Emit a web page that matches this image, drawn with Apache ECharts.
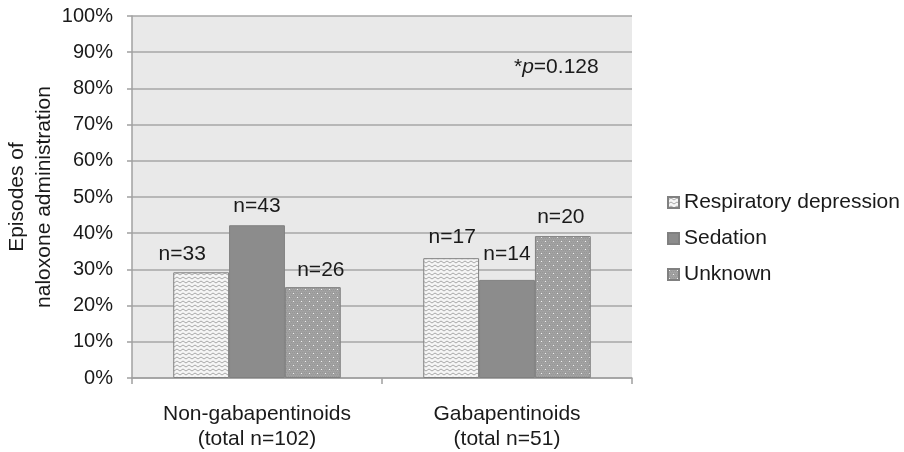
<!DOCTYPE html>
<html>
<head>
<meta charset="utf-8">
<script src="https://cdn.jsdelivr.net/npm/echarts@6/dist/echarts.min.js"></script>
<style>html,body{margin:0;padding:0;background:#fff;}#c{width:904px;height:452px;}</style>
</head>
<body>
<div id="c"></div>
<script>
const categories = ['Non-gabapentinoids\n(total n=102)', 'Gabapentinoids\n(total n=51)'];
const seriesNames = ['Respiratory depression', 'Sedation', 'Unknown'];
const respiratory = [29.2, 33.1];
const sedation = [42.2, 27.1];
const unknown = [25.1, 39.2];
const respLabels = ['n=33', 'n=17'];
const sedLabels = ['n=43', 'n=14'];
const unkLabels = ['n=26', 'n=20'];
const yTicks = [0, 10, 20, 30, 40, 50, 60, 70, 80, 90, 100];

function makePattern(w, h, draw) {
  const cv = document.createElement('canvas');
  cv.width = w; cv.height = h;
  const ctx = cv.getContext('2d');
  draw(ctx);
  return cv;
}
const zigzag = makePattern(6, 4, ctx => {
  ctx.fillStyle = '#f6f6f6'; ctx.fillRect(0, 0, 6, 4);
  ctx.strokeStyle = '#a8a8a8'; ctx.lineWidth = 1;
  ctx.beginPath(); ctx.moveTo(0, 3); ctx.lineTo(3, 1); ctx.lineTo(6, 3); ctx.stroke();
});
const dotted = makePattern(8, 8, ctx => {
  ctx.fillStyle = '#a2a2a2'; ctx.fillRect(0, 0, 8, 8);
  ctx.fillStyle = '#979797';
  for (let i = 0; i < 8; i += 2) for (let j = 0; j < 8; j += 2) ctx.fillRect(i + (j % 4 ? 1 : 0), j, 1, 1);
  ctx.fillStyle = '#f0f0f0';
  ctx.fillRect(1, 1, 1, 1); ctx.fillRect(5, 5, 1, 1);
});

const chart = echarts.init(document.getElementById('c'));
const font = 'Liberation Sans, Arial, sans-serif';
const txt = '#1a1a1a';
const fs = 21;
const border = { borderColor: '#808080', borderWidth: 1 };

function mkData(vals, labels, offsets) {
  return vals.map((v, i) => ({ value: v, label: { formatter: labels[i], offset: offsets[i] } }));
}
const lbl = { show: true, position: 'top', distance: 8, fontSize: fs, color: txt, fontFamily: font };

chart.setOption({
  animation: false,
  textStyle: { fontFamily: font },
  grid: { left: 132, right: 272, top: 16, bottom: 74, show: true, backgroundColor: '#e9e9e9', borderWidth: 0,
    outerBoundsMode: 'none', containLabel: false },
  legend: {
    orient: 'vertical', left: 662, top: 187, itemWidth: 11, itemHeight: 11, itemGap: 15,
    data: seriesNames,
    textStyle: { fontSize: fs, color: txt, fontFamily: font },
    icon: 'rect'
  },
  xAxis: {
    type: 'category', data: categories,
    axisLine: { lineStyle: { color: '#a0a0a0', width: 1.5 } },
    axisTick: { show: true, length: 6, lineStyle: { color: '#a0a0a0', width: 1.5 } },
    axisLabel: { fontSize: fs, color: txt, lineHeight: 25, margin: 24, fontFamily: font }
  },
  yAxis: {
    type: 'value', min: 0, max: 100, interval: 10,
    name: 'Episodes of\nnaloxone administration', nameLocation: 'middle', nameRotate: 90, nameGap: 74,
    nameMoveOverlap: false,
    nameTextStyle: { fontSize: fs, color: txt, lineHeight: 27, fontFamily: font },
    axisLine: { show: true, lineStyle: { color: '#a0a0a0', width: 1.5 } },
    axisTick: { show: true, length: 5, lineStyle: { color: '#a0a0a0', width: 1.5 } },
    splitLine: { lineStyle: { color: '#a6a6a6', width: 1.5 } },
    axisLabel: { fontSize: 20, color: txt, margin: 19, fontFamily: font,
      formatter: v => (yTicks.includes(v) ? v + '%' : '') }
  },
  series: [
    { name: seriesNames[0], type: 'bar', barGap: '0%', barCategoryGap: '33%',
      itemStyle: Object.assign({ color: { image: zigzag, repeat: 'repeat' } }, border),
      label: lbl,
      data: mkData(respiratory, respLabels, [[-19, 0], [1, -2]]) },
    { name: seriesNames[1], type: 'bar',
      itemStyle: Object.assign({ color: '#8c8c8c' }, border),
      label: lbl,
      data: mkData(sedation, sedLabels, [[0, -1], [0, -7]]) },
    { name: seriesNames[2], type: 'bar',
      itemStyle: Object.assign({ color: { image: dotted, repeat: 'repeat' } }, border),
      label: lbl,
      data: mkData(unknown, unkLabels, [[8, 2], [-2, 0]]) }
  ],
  graphic: [{
    type: 'text', left: 514, top: 57,
    style: {
      text: '{s|*}{p|p}{s|=0.128}',
      rich: {
        s: { fontSize: fs, fill: txt, fontFamily: font },
        p: { fontSize: fs, fill: txt, fontStyle: 'italic', fontFamily: font }
      }
    }
  }]
});
</script>
</body>
</html>
